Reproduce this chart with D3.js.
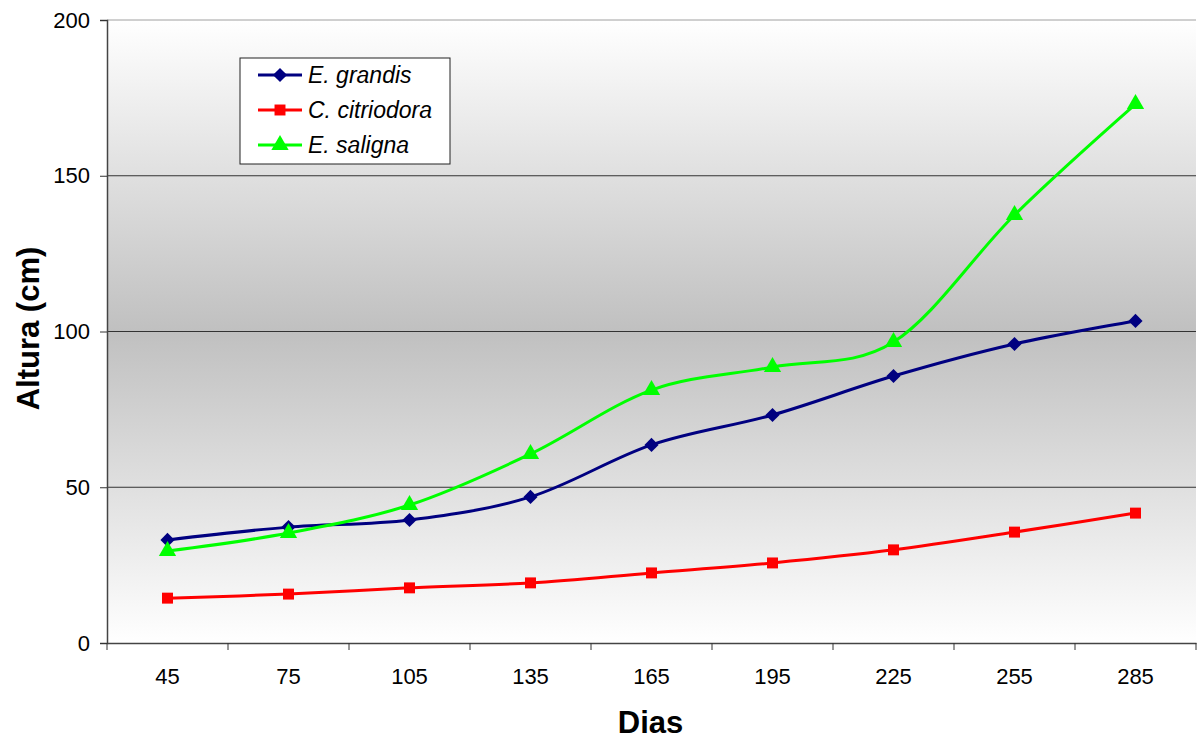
<!DOCTYPE html>
<html>
<head>
<meta charset="utf-8">
<script src="https://cdn.jsdelivr.net/npm/d3@7"></script>
<style>
  body { margin: 0; background: #fff; }
  svg { font-family: "Liberation Sans", Arial, sans-serif; }
</style>
</head>
<body>
<div id="chart"></div>
<script>
const dias = ["45", "75", "105", "135", "165", "195", "225", "255", "285"];
const grandis = [33.1, 37.2, 39.5, 46.9, 63.6, 73.2, 85.7, 96.0, 103.4];
const citriodora = [14.4, 15.7, 17.7, 19.3, 22.5, 25.7, 29.9, 35.6, 41.7];
const saligna = [29.5, 35.3, 44.3, 60.7, 81.2, 88.6, 96.6, 137.4, 173.0];
const yTicks = [0, 50, 100, 150, 200];

const series = [
  { name: "E. grandis", values: grandis, color: "#000080", symbol: d3.symbolSquare, size: 100, rotate: 45 },
  { name: "C. citriodora", values: citriodora, color: "#ff0000", symbol: d3.symbolSquare, size: 120, rotate: 0 },
  { name: "E. saligna", values: saligna, color: "#00ff00", symbol: d3.symbolTriangle, size: 130, rotate: 0 }
];

const width = 1198, height = 740;
const margin = { top: 20, right: 2, bottom: 97, left: 107 };
const w = width - margin.left - margin.right;
const h = height - margin.top - margin.bottom;

const svg = d3.select("#chart").append("svg")
  .attr("width", width)
  .attr("height", height);

const defs = svg.append("defs");
const grad = defs.append("linearGradient")
  .attr("id", "bg")
  .attr("x1", 0).attr("y1", 0).attr("x2", 0).attr("y2", 1);
grad.append("stop").attr("offset", "0%").attr("stop-color", "#ffffff");
grad.append("stop").attr("offset", "50%").attr("stop-color", "#c0c0c0");
grad.append("stop").attr("offset", "100%").attr("stop-color", "#ffffff");

const chart = svg.append("g")
  .attr("transform", `translate(${margin.left}, ${margin.top})`);

chart.append("rect")
  .attr("width", w)
  .attr("height", h)
  .attr("fill", "url(#bg)");

const xScale = d3.scaleBand()
  .domain(dias)
  .range([0, w]);

const yScale = d3.scaleLinear()
  .domain([0, 200])
  .range([h, 0]);

// grid lines
chart.append("g")
  .selectAll("line")
  .data(yTicks.filter(t => t > 0))
  .enter().append("line")
  .attr("x1", 0).attr("x2", w)
  .attr("y1", d => yScale(d)).attr("y2", d => yScale(d))
  .attr("stroke", d => d === 200 ? "#a0a0a0" : "#333")
  .attr("stroke-width", 1);

// y axis
const yAxis = chart.append("g")
  .call(d3.axisLeft(yScale).tickValues(yTicks).tickSize(7).tickPadding(10));
yAxis.select(".domain").attr("stroke", "#444").attr("stroke-width", 1.5);
yAxis.selectAll(".tick line").attr("stroke", "#333");
yAxis.selectAll("text").attr("font-size", 22).attr("fill", "#000")
  .attr("font-family", "Liberation Sans, Arial, sans-serif");

// x axis
const xAxis = chart.append("g")
  .attr("transform", `translate(0, ${h})`)
  .call(d3.axisBottom(xScale).tickSize(0).tickPadding(25));
xAxis.select(".domain").attr("stroke", "#444").attr("stroke-width", 1.5);
xAxis.selectAll("text").attr("font-size", 22).attr("fill", "#000")
  .attr("font-family", "Liberation Sans, Arial, sans-serif");

// tick marks between categories
xAxis.selectAll(".sep")
  .data(d3.range(dias.length + 1))
  .enter().append("line")
  .attr("x1", i => i * xScale.step()).attr("x2", i => i * xScale.step())
  .attr("y1", 0).attr("y2", 7)
  .attr("stroke", "#333");

// axis titles
svg.append("text")
  .attr("transform", `translate(39, ${margin.top + h / 2 - 3}) rotate(-90)`)
  .attr("text-anchor", "middle")
  .attr("font-size", 31)
  .attr("font-weight", "bold")
  .text("Altura (cm)");

svg.append("text")
  .attr("x", margin.left + w / 2 - 1)
  .attr("y", 733)
  .attr("text-anchor", "middle")
  .attr("font-size", 31)
  .attr("font-weight", "bold")
  .text("Dias");

// lines and markers
const line = d3.line()
  .x((d, i) => xScale(dias[i]) + xScale.bandwidth() / 2)
  .y(d => yScale(d))
  .curve(d3.curveCatmullRom.alpha(0));

series.forEach(s => {
  chart.append("path")
    .datum(s.values)
    .attr("fill", "none")
    .attr("stroke", s.color)
    .attr("stroke-width", 3)
    .attr("d", line);

  chart.append("g")
    .selectAll("path")
    .data(s.values)
    .enter().append("path")
    .attr("transform", (d, i) => `translate(${xScale(dias[i]) + xScale.bandwidth() / 2}, ${yScale(d)}) rotate(${s.rotate})`)
    .attr("d", d3.symbol().type(s.symbol).size(s.size))
    .attr("fill", s.color);
});

// legend
const legend = svg.append("g").attr("transform", "translate(240, 58)");
legend.append("rect")
  .attr("width", 210)
  .attr("height", 106)
  .attr("fill", "#fff")
  .attr("stroke", "#222")
  .attr("stroke-width", 1);

series.forEach((s, i) => {
  const row = legend.append("g").attr("transform", `translate(0, ${17 + i * 35})`);
  row.append("line")
    .attr("x1", 18).attr("x2", 62)
    .attr("stroke", s.color)
    .attr("stroke-width", 3);
  row.append("path")
    .attr("transform", `translate(40, 0) rotate(${s.rotate})`)
    .attr("d", d3.symbol().type(s.symbol).size(s.size))
    .attr("fill", s.color);
  row.append("text")
    .attr("x", 68)
    .attr("y", 8)
    .attr("font-size", 23)
    .attr("font-style", "italic")
    .text(s.name);
});
</script>
</body>
</html>
